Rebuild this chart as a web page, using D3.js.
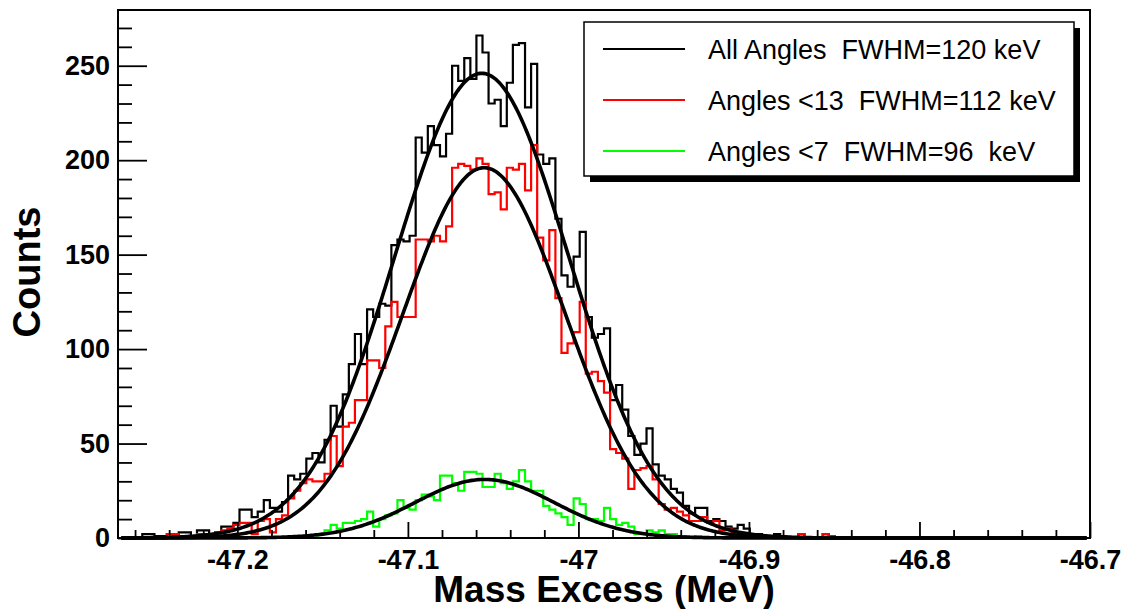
<!DOCTYPE html>
<html>
<head>
<meta charset="utf-8">
<script src="https://cdn.jsdelivr.net/npm/d3@7"></script>
<style>
  body { margin: 0; background: #fff; }
  svg { display: block; }
  text { font-family: "Liberation Sans", Arial, sans-serif; }
</style>
</head>
<body>
<div id="chart"></div>
<script>
// histogram binning (MeV)
const binLow = -47.27;
const binHigh = -46.7;
const nBins = 160;

// counts per bin, starting at bin 0; bins past the end of a list are empty
const allAngles = [
  0, 0, 0, 0, 2, 2, 1, 1, 0, 1, 3, 3, 1, 4, 4, 2, 3, 6, 6, 8,
  15, 15, 11, 14, 20, 16, 14, 19, 33, 31, 34, 42, 45, 40, 52, 70, 59, 76, 92, 108,
  92, 121, 117, 124, 123, 155, 158, 157, 160, 212, 204, 218, 208, 202, 214, 250, 242, 254, 243, 266,
  257, 230, 232, 218, 241, 261, 262, 228, 251, 203, 198, 201, 169, 139, 133, 149, 162, 117, 106, 108,
  111, 73, 81, 68, 54, 44, 50, 58, 39, 33, 31, 26, 24, 17, 13, 16, 16, 9, 10, 9,
  6, 5, 7, 5, 1, 2, 1, 1, 2, 1, 0, 0, 2, 0, 0, 0, 2, 1
];
const anglesLt13 = [
  0, 0, 0, 0, 0, 0, 0, 0, 2, 2, 1, 1, 1, 2, 2, 1, 3, 4, 5, 7,
  8, 8, 2, 9, 10, 3, 10, 12, 21, 25, 29, 31, 30, 30, 34, 54, 38, 59, 61, 73,
  73, 94, 94, 90, 112, 125, 117, 117, 117, 158, 158, 157, 160, 157, 165, 196, 198, 197, 195, 201,
  198, 182, 183, 174, 196, 195, 198, 184, 208, 159, 147, 163, 127, 98, 103, 109, 125, 87, 88, 83,
  77, 47, 45, 42, 26, 36, 37, 38, 31, 18, 15, 16, 14, 12, 9, 9, 11, 8, 9, 4,
  5, 3, 2, 1, 2, 0, 1, 0, 0, 1, 0, 0, 2, 0, 0, 0, 2, 1
];
const anglesLt7 = [
  0, 0, 0, 0, 0, 0, 0, 0, 0, 0, 0, 0, 0, 0, 0, 0, 0, 0, 0, 0,
  0, 0, 0, 0, 0, 0, 0, 0, 1, 1, 0, 0, 0, 2, 4, 7, 5, 8, 8, 9,
  10, 14, 6, 10, 12, 13, 20, 16, 15, 20, 23, 22, 20, 33, 33, 29, 25, 35, 35, 34,
  27, 27, 34, 29, 26, 30, 36, 30, 25, 25, 17, 15, 13, 11, 7, 21, 18, 10, 10, 9,
  16, 10, 7, 8, 6, 2, 2, 4, 3, 4, 2, 2, 1, 1, 0, 1
];

// gaussian fits: peak height, mean (MeV), FWHM (MeV)
const fitAmp = [246, 196, 31];
const fitMean = [-47.0567, -47.0553, -47.055];
const fitFwhm = [0.120, 0.112, 0.096];

const seriesColors = ["#000000", "#ff0000", "#00ff00"];
const legendLabels = [
  "All Angles  FWHM=120 keV",
  "Angles <13  FWHM=112 keV",
  "Angles <7  FWHM=96  keV"
];

const xTicks = [-47.2, -47.1, -47.0, -46.9, -46.8, -46.7];
const xTickLabels = ["-47.2", "-47.1", "-47", "-46.9", "-46.8", "-46.7"];
const yTicks = [0, 50, 100, 150, 200, 250];

const width = 1129, height = 609;
const plotL = 118, plotR = 1090, plotT = 10, plotB = 538;

const svg = d3.select("#chart").append("svg")
  .attr("width", width)
  .attr("height", height);

const x = d3.scaleLinear().domain([binLow, binHigh]).range([plotL, plotR]);
const y = d3.scaleLinear().domain([0, 279.5]).range([plotB, plotT]);

const binW = (binHigh - binLow) / nBins;

function histPoints(counts) {
  const pts = [];
  for (let i = 0; i < nBins; i++) {
    pts.push([binLow + i * binW, counts[i] || 0]);
  }
  pts.push([binHigh, 0]);
  return pts;
}

const stepLine = d3.line()
  .x(d => x(d[0]))
  .y(d => y(d[1]))
  .curve(d3.curveStepAfter);

[allAngles, anglesLt13, anglesLt7].forEach((counts, i) => {
  svg.append("path")
    .attr("d", stepLine(histPoints(counts)))
    .attr("fill", "none")
    .attr("stroke", seriesColors[i])
    .attr("stroke-width", 2.2);
});

// fit curves
const fitLine = d3.line()
  .x(d => x(d[0]))
  .y(d => y(d[1]));

fitAmp.forEach((amp, i) => {
  const sigma = fitFwhm[i] / 2.3548;
  const xs = d3.range(0, 601).map(j => binLow + 0.002 + j * (binHigh - binLow - 0.004) / 600);
  const pts = xs.map(v => [v, amp * Math.exp(-0.5 * Math.pow((v - fitMean[i]) / sigma, 2))]);
  svg.append("path")
    .attr("d", fitLine(pts))
    .attr("fill", "none")
    .attr("stroke", "#000")
    .attr("stroke-width", 3.6);
});

// axes
const xMinor = d3.range(-47.26, -46.699, 0.02).filter(v => Math.abs(Math.round(v * 10) - v * 10) > 0.05);
const yMinor = d3.range(10, 280, 10).filter(v => v % 50 !== 0);

svg.append("g")
  .attr("transform", `translate(0,${plotB})`)
  .call(d3.axisBottom(x).tickValues(xMinor).tickSize(-8).tickFormat(""))
  .call(g => g.select(".domain").remove());

svg.append("g")
  .attr("transform", `translate(0,${plotB})`)
  .call(d3.axisBottom(x).tickValues(xTicks).tickSize(-16).tickPadding(12)
    .tickFormat((d, i) => xTickLabels[i]))
  .call(g => g.select(".domain").remove());

svg.append("g")
  .attr("transform", `translate(${plotL},0)`)
  .call(d3.axisLeft(y).tickValues(yMinor).tickSize(-14).tickFormat(""))
  .call(g => g.select(".domain").remove());

svg.append("g")
  .attr("transform", `translate(${plotL},0)`)
  .call(d3.axisLeft(y).tickValues(yTicks).tickSize(-29).tickPadding(8))
  .call(g => g.select(".domain").remove());

svg.selectAll(".tick line").attr("stroke", "#000").attr("stroke-width", 1.8);
svg.selectAll(".tick text")
  .attr("fill", "#000")
  .style("font-family", "'Liberation Sans', Arial, sans-serif")
  .style("font-size", "27px")
  .style("font-weight", "bold");

// frame
svg.append("rect")
  .attr("x", plotL).attr("y", plotT)
  .attr("width", plotR - plotL).attr("height", plotB - plotT)
  .attr("fill", "none")
  .attr("stroke", "#000")
  .attr("stroke-width", 2);

// titles
svg.append("text")
  .attr("x", (plotL + plotR) / 2)
  .attr("y", 602)
  .attr("text-anchor", "middle")
  .style("font-size", "37px")
  .style("font-weight", "bold")
  .text("Mass Excess (MeV)");

svg.append("text")
  .attr("transform", "translate(40,272) rotate(-90)")
  .attr("text-anchor", "middle")
  .style("font-size", "38px")
  .style("font-weight", "bold")
  .text("Counts");

// legend
const lg = { x: 584, y: 22, w: 490, h: 154 };
svg.append("rect")
  .attr("x", lg.x + 6).attr("y", lg.y + 6)
  .attr("width", lg.w).attr("height", lg.h)
  .attr("fill", "#000");
svg.append("rect")
  .attr("x", lg.x).attr("y", lg.y)
  .attr("width", lg.w).attr("height", lg.h)
  .attr("fill", "#fff")
  .attr("stroke", "#000")
  .attr("stroke-width", 1.5);

legendLabels.forEach((label, i) => {
  const cy = lg.y + 27 + i * 51;
  svg.append("line")
    .attr("x1", lg.x + 19).attr("x2", lg.x + 101)
    .attr("y1", cy).attr("y2", cy)
    .attr("stroke", seriesColors[i])
    .attr("stroke-width", 2.2);
  svg.append("text")
    .attr("x", lg.x + 124)
    .attr("y", cy)
    .attr("dy", "0.36em")
    .style("font-size", "27px")
    .style("white-space", "pre")
    .text(label);
});
</script>
</body>
</html>
